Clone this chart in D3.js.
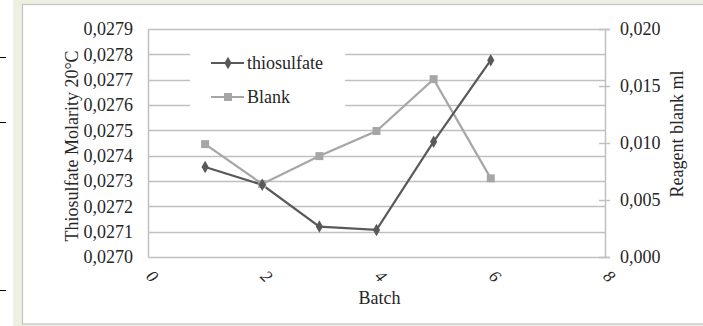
<!DOCTYPE html>
<html><head><meta charset="utf-8">
<script src="https://cdn.jsdelivr.net/npm/d3@7"></script>
<style>body{margin:0;background:#fff}svg{display:block}</style>
</head><body>
<script>
const batches = [1, 2, 3, 4, 5, 6];
const thiosulfate = [0.027355, 0.027285, 0.027120, 0.027107, 0.027455, 0.027777];
const blank = [0.00990, 0.00640, 0.00885, 0.01105, 0.01560, 0.00690];
const leftTicks = [0.0270,0.0271,0.0272,0.0273,0.0274,0.0275,0.0276,0.0277,0.0278,0.0279];
const rightTicks = [0, 0.005, 0.010, 0.015, 0.020];
const xTicks = [0, 2, 4, 6, 8];
const seriesNames = ["thiosulfate", "Blank"];

const W = 703, H = 326;
const svg = d3.select("body").append("svg").attr("width", W).attr("height", H);
const font = "'Liberation Serif','Times New Roman',serif";

// page decoration
svg.append("rect").attr("x",13).attr("y",0).attr("width",W-13).attr("height",H).attr("fill","#eef0e1");
svg.append("rect").attr("x",22.5).attr("y",4.5).attr("width",W).attr("height",319.5)
  .attr("fill","#fff").attr("stroke","#c4c4c4").attr("stroke-width",1.2);
[57,122,290].forEach(y=>svg.append("line").attr("x1",0).attr("x2",6).attr("y1",y+0.5).attr("y2",y+0.5).attr("stroke","#000"));

const L = 148, R = 605, T = 29, B = 257;
const x = d3.scaleLinear().domain([0,8]).range([L,R]);
const yL = d3.scaleLinear().domain([0.0270,0.0279]).range([B,T]);
const yR = d3.scaleLinear().domain([0,0.020]).range([B,T]);
const grid = "#c0c0c0";

// gridlines
svg.append("g").selectAll("line").data(leftTicks.slice(1)).join("line")
  .attr("x1",L).attr("x2",R).attr("y1",d=>Math.round(yL(d))+0.5).attr("y2",d=>Math.round(yL(d))+0.5)
  .attr("stroke",grid).attr("stroke-width",1.5);

// left axis
const gL = svg.append("g").attr("transform",`translate(${L},0)`)
  .call(d3.axisLeft(yL).tickValues(leftTicks).tickSize(0).tickPadding(15)
    .tickFormat(d=>d3.format(".4f")(d).replace(".",",")));
gL.select(".domain").attr("stroke",grid).attr("stroke-width",1.5);
gL.selectAll("text").attr("font-family",font).attr("font-size",18).attr("fill","#262626");

// right axis
const gR = svg.append("g").attr("transform",`translate(${R},0)`)
  .call(d3.axisRight(yR).tickValues(rightTicks).tickSize(5).tickPadding(10)
    .tickFormat(d=>d3.format(".3f")(d).replace(".",",")));
gR.select(".domain").attr("stroke",grid).attr("stroke-width",1.5);
gR.selectAll(".tick line").attr("stroke",grid).attr("stroke-width",1.5).attr("x1",-6);
gR.selectAll("text").attr("font-family",font).attr("font-size",18).attr("fill","#262626");

// bottom axis
const gB = svg.append("g").attr("transform",`translate(0,${B})`)
  .call(d3.axisBottom(x).tickValues(xTicks).tickSize(0).tickPadding(0));
gB.select(".domain").attr("stroke",grid).attr("stroke-width",1.5);
gB.selectAll("text").attr("font-family",font).attr("font-size",17).attr("font-style","italic").attr("fill","#262626")
  .attr("transform","translate(4,19) rotate(45)").attr("dy","0.35em").attr("text-anchor","middle");

// axis titles
svg.append("text").attr("transform",`translate(78,${(T+B)/2+3}) rotate(-90)`).attr("text-anchor","middle")
  .attr("font-family",font).attr("font-size",18).attr("fill","#262626").text("Thiosulfate Molarity 20°C");
svg.append("text").attr("transform",`translate(683,${(T+B)/2-9}) rotate(-90)`).attr("text-anchor","middle")
  .attr("font-family",font).attr("font-size",18).attr("fill","#262626").text("Reagent blank ml");
svg.append("text").attr("x",(L+R)/2+3).attr("y",304).attr("text-anchor","middle")
  .attr("font-family",font).attr("font-size",18).attr("fill","#262626").text("Batch");

// legend box
svg.append("rect").attr("x",190).attr("y",40).attr("width",155).attr("height",78).attr("fill","#fff");

const colT = "#595959", colB = "#a6a6a6";
const lineT = d3.line().x((d,i)=>x(batches[i])).y(d=>yL(d));
const lineB = d3.line().x((d,i)=>x(batches[i])).y(d=>yR(d));

svg.append("path").datum(blank).attr("d",lineB).attr("fill","none").attr("stroke",colB).attr("stroke-width",2.2);
svg.append("path").datum(thiosulfate).attr("d",lineT).attr("fill","none").attr("stroke",colT).attr("stroke-width",2.2);

const sq = d3.symbol().type(d3.symbolSquare).size(64);
const dia = d3.symbol().type(d3.symbolDiamond).size(45);
svg.append("g").selectAll("path").data(blank).join("path")
  .attr("transform",(d,i)=>`translate(${x(batches[i])},${yR(d)})`).attr("d",sq).attr("fill",colB);
svg.append("g").selectAll("path").data(thiosulfate).join("path")
  .attr("transform",(d,i)=>`translate(${x(batches[i])},${yL(d)})`).attr("d",dia).attr("fill",colT);

// legend entries
const legY = [63, 97], legCol = [colT, colB], legSym = [dia, sq];
seriesNames.forEach((n,i)=>{
  svg.append("line").attr("x1",211).attr("x2",244).attr("y1",legY[i]).attr("y2",legY[i])
    .attr("stroke",legCol[i]).attr("stroke-width",2.2);
  svg.append("path").attr("transform",`translate(228,${legY[i]})`).attr("d",legSym[i]).attr("fill",legCol[i]);
  svg.append("text").attr("x",247).attr("y",legY[i]).attr("dy","0.35em")
    .attr("font-family",font).attr("font-size",18).attr("fill","#262626").text(n);
});
</script>
</body></html>
